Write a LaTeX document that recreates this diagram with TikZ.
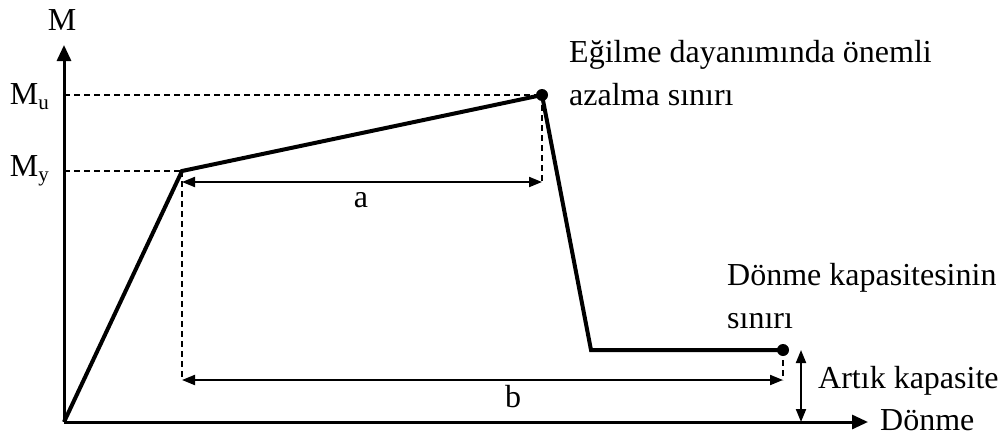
\documentclass[tikz,border=0pt]{standalone}
\usepackage{fontspec}
\setmainfont{Liberation Serif}
\usetikzlibrary{arrows.meta}
\begin{document}
\begin{tikzpicture}[x=1pt,y=-1pt,
  lbl/.style={inner sep=0pt,font=\fontsize{32}{38}\selectfont},
  axis/.style={line width=3pt,-{Triangle[length=16pt,width=14pt]}},
  curve/.style={line width=4pt,line join=miter},
  guide/.style={line width=1.4pt,dash pattern=on 6pt off 4pt},
  dim/.style={line width=2pt,{Triangle[length=13pt,width=10pt]}-{Triangle[length=13pt,width=10pt]}},
  dot/.style={circle,fill=black,inner sep=0pt,minimum size=12pt}]
\useasboundingbox (0,0) rectangle (1006,439);
% points
\coordinate (O) at (64,422);
\coordinate (Ytop) at (64,45);
\coordinate (Xend) at (868,422);
\coordinate (Yp) at (182,171);
\coordinate (D) at (591,350);
\node[dot] (U) at (542,95) {};
\node[dot] (R) at (783,350) {};
\coordinate (MuL) at (64,95);
\coordinate (MyL) at (64,171);
\coordinate (aL) at (182,182);
\coordinate (aR) at (542,182);
\coordinate (bL) at (182,380);
\coordinate (bR) at (783,380);
\coordinate (cT) at (801,350);
\coordinate (cB) at (801,422);
% guides
\draw[guide] (MuL) -- (U.center);
\draw[guide] (MyL) -- (Yp);
\draw[guide] (U.center) -- (aR);
\draw[guide] (Yp) -- (bL);
\draw[guide] (R.center) -- (bR);
% axes
\draw[axis] (O) -- (Ytop);
\draw[axis] (O) -- (Xend);
% curve
\draw[curve] (O) -- (Yp) -- (U.center) -- (D) -- (R.center);
% dimension arrows
\draw[dim] (aL) -- (aR);
\draw[dim] (bL) -- (bR);
\draw[dim] (cT) -- (cB);
% labels
\node[lbl,anchor=base] (lM) at (62,30) {M};
\node[lbl,anchor=base east] (lMu) at (49,104) {M\raisebox{-0.18em}{\fontsize{21}{21}\selectfont u}};
\node[lbl,anchor=base east] (lMy) at (49,176) {M\raisebox{-0.18em}{\fontsize{21}{21}\selectfont y}};
\node[lbl,anchor=base] (la) at (361,207) {a};
\node[lbl,anchor=base] (lb) at (513,407) {b};
\node[lbl,anchor=base west] (t1) at (569,62) {Eğilme dayanımında önemli};
\node[lbl,anchor=base west] (t2) at (569,105) {azalma sınırı};
\node[lbl,anchor=base west] (t3) at (727,285) {Dönme kapasitesinin};
\node[lbl,anchor=base west] (t4) at (727,328) {sınırı};
\node[lbl,anchor=base west] (t5) at (818,388) {Artık kapasite};
\node[lbl,anchor=base west] (t6) at (880,430) {Dönme};
\end{tikzpicture}
\end{document}
